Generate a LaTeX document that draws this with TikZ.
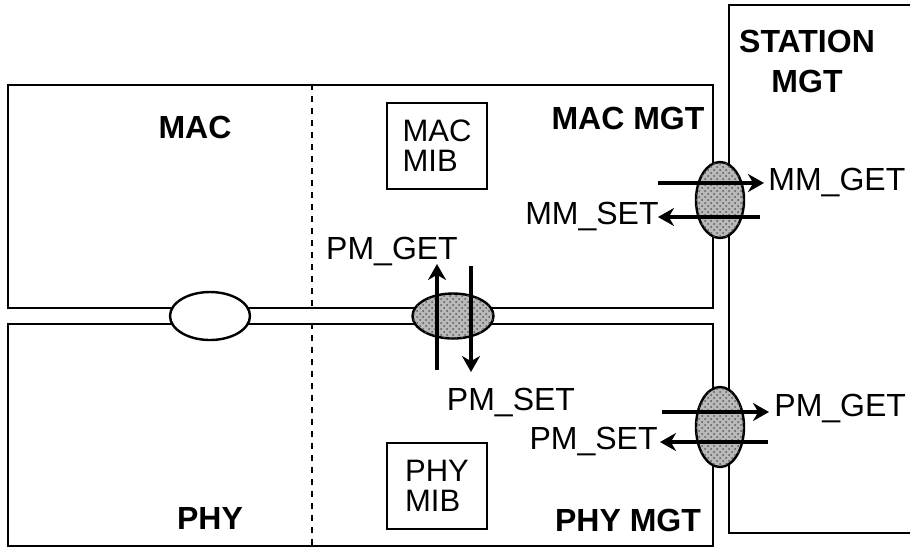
\documentclass[tikz,border=0pt]{standalone}
\usepackage{fontspec}
\setmainfont{Liberation Sans}
\usepackage{tikz}
\usetikzlibrary{shapes}
\usetikzlibrary{patterns}
\usetikzlibrary{arrows.meta}
\usetikzlibrary{positioning}
\tikzset{
    every picture/.style={x=0.5pt,y=-0.5pt},
    wall/.style={draw, line width=1.2pt},
    sap/.style={ellipse, draw, line width=1.2pt, inner sep=0pt,
          fill=gray!55, postaction={pattern=crosshatch dots, pattern color=gray!70!black}},
    prim/.style={line width=2.3pt, -{Stealth[length=8pt,width=9pt]}},
}
\begin{document}
\begin{tikzpicture}[font=\fontsize{16}{18}\selectfont,
                    lbl/.style={font=\fontsize{16}{18}\selectfont\bfseries},
                    mib/.style={wall, minimum width=50pt, minimum height=43pt,
                                align=left, font=\fontsize{15.5}{15}\selectfont}]
    \useasboundingbox (0,0) rectangle (910,548);
    % layers and station management
    \node[wall, minimum width=352.5pt, minimum height=111.5pt] (mac) at (360.5,196.5) {};
    \node[wall, minimum width=352.5pt, minimum height=111pt] (phy) at (360.5,435) {};
    \draw[wall] (930,5) -| (729,533) -- (930,533);
    \draw[dashed, line width=0.6pt] (mac.north -| 312,0) -- (mac.south -| 312,0);
    \draw[dashed, line width=0.6pt] (phy.north -| 312,0) -- (phy.south -| 312,0);

    \node[lbl] (maclbl) at (195,127) {MAC};
    \node[lbl] (macmgt) at (628,118) {MAC MGT};
    \node[lbl] (phylbl) at (210,518) {PHY};
    \node[lbl] (phymgt) at (628,520) {PHY MGT};
    \node[lbl, align=center, font=\fontsize{16}{20}\selectfont\bfseries] (sta) at (807,61) {STATION\\MGT};
    \node[mib] (macmib) at (437,146) {MAC\\MIB};
    \node[mib] (phymib) at (437,486) {PHY\\MIB};

    % service access points
    \node[ellipse, draw, line width=1.2pt, inner sep=0pt, fill=white,
          minimum width=40pt, minimum height=24pt] (phsap) at (210,316) {};
    \node[sap, minimum width=40.5pt, minimum height=22.5pt] (pmsap) at (453,316) {};
    \node[sap, minimum width=24pt, minimum height=38pt] (mmsap) at (720,200) {};
    \node[sap, minimum width=24pt, minimum height=40pt] (plsap) at (720,427) {};

    \coordinate (pgA) at (437,370);  \coordinate (pgB) at (437,264);
    \coordinate (psA) at (471,266);  \coordinate (psB) at (471,372);
    \coordinate (mgA) at (658,183);  \coordinate (mgB) at (764,183);
    \coordinate (msA) at (760,217);  \coordinate (msB) at (658,217);
    \coordinate (qgA) at (662,412);  \coordinate (qgB) at (769,412);
    \coordinate (qsA) at (768,442);  \coordinate (qsB) at (660,442);

    \draw[prim] (pgA) -- (pgB);
    \draw[prim] (psA) -- (psB);
    \draw[prim] (mgA) -- (mgB);
    \draw[prim] (msA) -- (msB);
    \draw[prim] (qgA) -- (qgB);
    \draw[prim] (qsA) -- (qsB);

    \node (pmget) at (392,251) {PM\_GET};
    \node (pmset) at (511,402) {PM\_SET};
    \node[anchor=west, inner sep=0pt] (mmget) at (768,182) {MM\_GET};
    \node[anchor=east, inner sep=0pt] (mmset) at (659,216) {MM\_SET};
    \node[anchor=west, inner sep=0pt] (stget) at (774,408) {PM\_GET};
    \node[anchor=east, inner sep=0pt] (stset) at (658,441) {PM\_SET};
\end{tikzpicture}
\end{document}
